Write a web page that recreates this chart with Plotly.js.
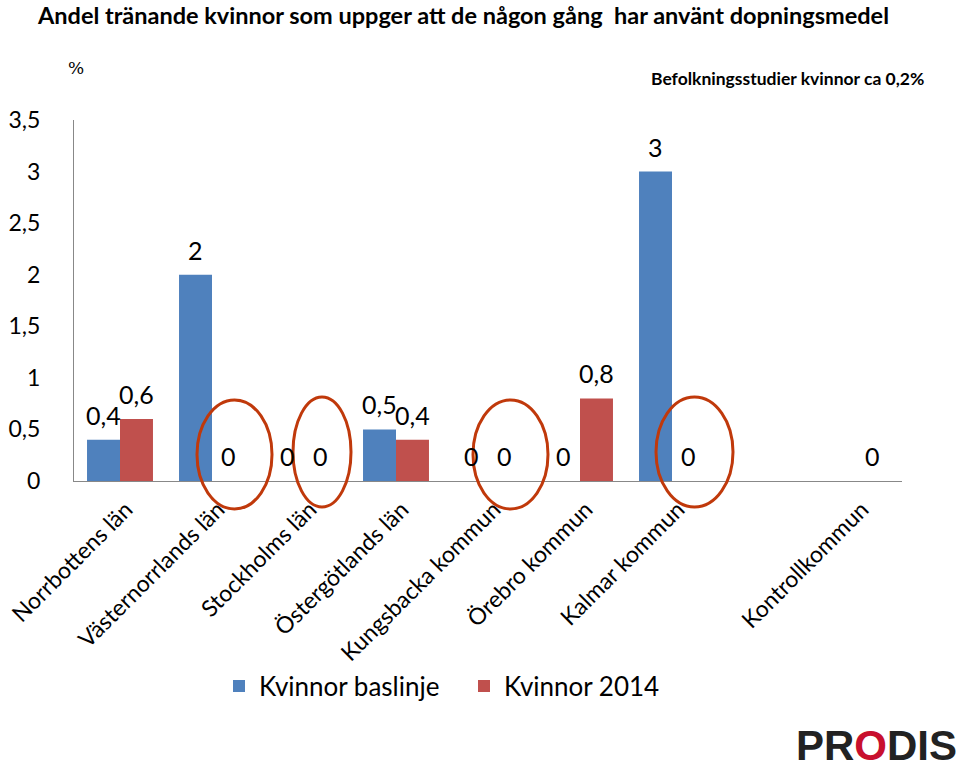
<!DOCTYPE html>
<html>
<head>
<meta charset="utf-8">
<script src="https://cdn.plot.ly/plotly-3.0.1.min.js"></script>
<style>html,body{margin:0;padding:0;background:#fff;}#chart{width:960px;height:771px;}</style>
</head>
<body>
<div id="chart"></div>
<script>
var categories = ["Norrbottens län", "Västernorrlands län", "Stockholms län", "Östergötlands län", "Kungsbacka kommun", "Örebro kommun", "Kalmar kommun", " ", "Kontrollkommun"];
var baslinje = [0.4, 2, 0, 0.5, 0, 0, 3, null, null];
var ar2014 = [0.6, 0, 0, 0.4, 0, 0.8, 0, null, 0];
var seriesNames = ["Kvinnor baslinje", "Kvinnor 2014"];
var yTicks = [0, 0.5, 1, 1.5, 2, 2.5, 3, 3.5];

function lab(v) { return String(v).replace(".", ","); }

var FONT = "Lato, 'Open Sans', sans-serif";
var traces = [
  { type: "bar", name: seriesNames[0], x: categories, y: baslinje, marker: { color: "#4F81BD" }, hoverinfo: "x+y" },
  { type: "bar", name: seriesNames[1], x: categories, y: ar2014, marker: { color: "#C0504D" }, hoverinfo: "x+y" }
];

function circ(x0, x1, y0, y1) {
  return { type: "circle", xref: "paper", yref: "paper", x0: x0, x1: x1, y0: y0, y1: y1,
    line: { color: "#C0390B", width: 3 } };
}
function px(p) { return (p - 74) / 828; }
function py(p) { return (481 - p) / 361; }

var annotations = [
  { text: "%", xref: "paper", yref: "paper", x: px(66), y: py(68), xanchor: "left", yanchor: "middle",
    showarrow: false, font: { family: "'DejaVu Serif', 'Liberation Serif', serif", size: 17, color: "#000" } },
  { text: "<b>Befolkningsstudier kvinnor ca 0,2%</b>", xref: "paper", yref: "paper",
    x: px(926), y: py(78), xanchor: "right", yanchor: "middle",
    showarrow: false, font: { family: FONT, size: 17.5, color: "#000" } },
  { text: "<b>PR<span style='color:#C8102E'>O</span>DIS</b>", xref: "paper", yref: "paper",
    x: px(959), y: py(771), xanchor: "right", yanchor: "bottom",
    showarrow: false, font: { family: "'Liberation Sans', Arial, sans-serif", size: 42, color: "#222" } }
];
[baslinje, ar2014].forEach(function (arr, s) {
  arr.forEach(function (v, j) {
    if (v === null) return;
    annotations.push({ text: lab(v), xref: "x", yref: "y", x: categories[j], y: v,
      xshift: s === 0 ? -16.5 : 16.5, yshift: 25, xanchor: "center", yanchor: "middle",
      showarrow: false, font: { family: FONT, size: 25, color: "#000" } });
  });
});

var layout = {
  width: 960, height: 771,
  margin: { l: 74, r: 58, t: 120, b: 290, autoexpand: false },
  paper_bgcolor: "#fff", plot_bgcolor: "#fff",
  separators: ", ",
  barmode: "group", bargap: 0.283, bargroupgap: 0,
  font: { family: FONT, color: "#000" },
  title: { text: "<b>Andel tränande kvinnor som uppger att de någon gång  har använt dopningsmedel</b>",
    xref: "container", x: 38 / 960, xanchor: "left", yref: "container", y: 1 - 16 / 771, yanchor: "middle",
    font: { family: FONT, size: 23.5, color: "#000" } },
  xaxis: { type: "category", tickangle: -45, showline: true, linecolor: "#888", linewidth: 1,
    ticks: "", showgrid: false, automargin: false, ticklabelstandoff: 5, ticklabelshift: 6,
    tickfont: { family: FONT, size: 23, color: "#000" }, fixedrange: true },
  yaxis: { range: [0, 3.5], tickvals: yTicks, showline: true, linecolor: "#888", linewidth: 1,
    showgrid: false, zeroline: false, ticks: "", ticklabelstandoff: 28, automargin: false,
    tickfont: { family: FONT, size: 23, color: "#000" }, fixedrange: true },
  showlegend: true,
  legend: { orientation: "h", x: px(219), xanchor: "left", y: py(686), yanchor: "middle",
    bgcolor: "rgba(0,0,0,0)", entrywidth: 200, entrywidthmode: "pixels",
    font: { family: FONT, size: 26, color: "#000" }, itemwidth: 30 },
  shapes: [
    circ(px(197), px(272), py(509), py(400)),
    circ(px(293), px(351), py(507), py(397)),
    circ(px(473), px(548), py(509), py(400)),
    circ(px(656), px(733), py(507), py(397))
  ],
  annotations: annotations
};

Plotly.newPlot("chart", traces, layout, { displayModeBar: false, staticPlot: true });
</script>
</body>
</html>
